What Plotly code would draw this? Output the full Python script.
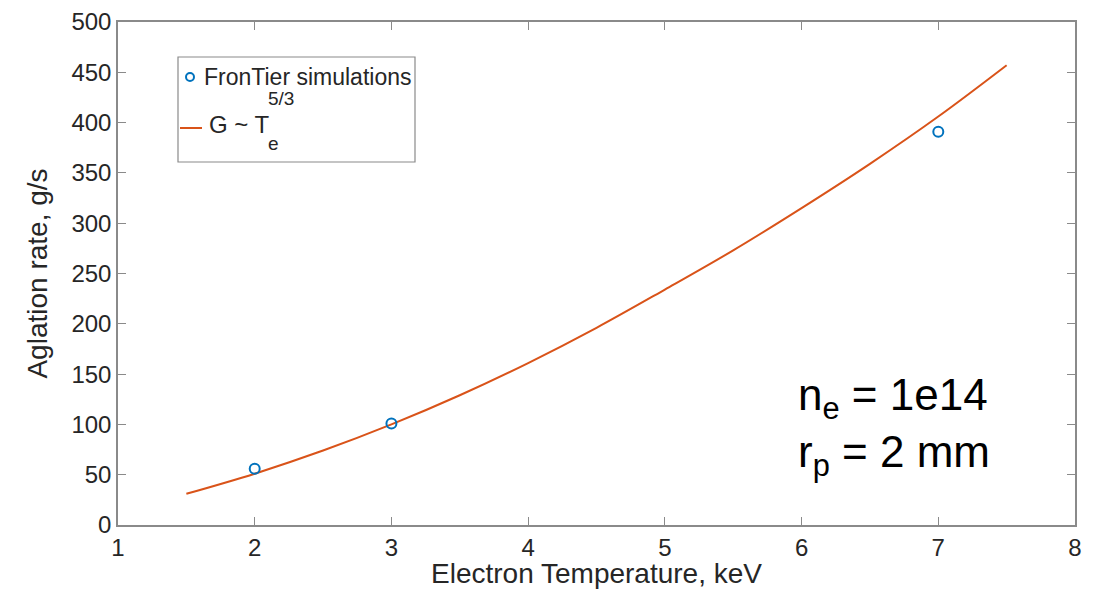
import plotly.graph_objects as go

# Simulation points
sim_T = [2, 3, 7]
sim_G = [56, 101, 391]

# Fitted curve G ~ Te^(5/3)
fit_T = [1.5, 2.0, 2.5, 3.0, 3.5, 4.0, 4.5, 5.0, 5.5, 6.0, 6.5, 7.0, 7.5]
fit_G = [31, 51, 74, 100, 129, 161, 196, 234, 273, 315, 359, 406, 457]

x_ticks = [1, 2, 3, 4, 5, 6, 7, 8]
y_ticks = [0, 50, 100, 150, 200, 250, 300, 350, 400, 450, 500]

FONT = "Liberation Sans, Arial, sans-serif"
TXT = "#262626"
AX = "#8a8a8a"
BLUE = "#0072BD"
ORANGE = "#D95319"

W, H = 1093, 589
L, R, T, B = 118, 18, 22, 64
PW, PH = W - L - R, H - T - B


def px(x):
    return (x - L) / PW


def py(y):
    return (H - B - y) / PH


fig = go.Figure()
fig.add_trace(go.Scatter(
    x=fit_T, y=fit_G, mode="lines", name="G ~ T_e^5/3",
    line=dict(color=ORANGE, width=2, shape="spline", smoothing=1.0),
    showlegend=False,
))
fig.add_trace(go.Scatter(
    x=sim_T, y=sim_G, mode="markers", name="FronTier simulations",
    marker=dict(symbol="circle-open", size=10, color=BLUE, line=dict(width=2, color=BLUE)),
    showlegend=False,
))

axis_common = dict(
    showgrid=False, zeroline=False, showline=True, linecolor=AX, linewidth=1.5,
    mirror="ticks", ticks="inside", ticklen=8, tickcolor=AX, tickwidth=1,
    tickfont=dict(family=FONT, size=24, color=TXT),
)

fig.update_layout(
    width=W, height=H,
    margin=dict(l=L, r=R, t=T, b=B, autoexpand=False),
    paper_bgcolor="white", plot_bgcolor="white",
    xaxis=dict(range=[1, 8], tickvals=x_ticks, ticktext=[str(v) for v in x_ticks],
               title=dict(text="Electron Temperature, keV", font=dict(family=FONT, size=28, color=TXT), standoff=4),
               **axis_common),
    yaxis=dict(range=[0, 500], tickvals=y_ticks, ticktext=[str(v) for v in y_ticks],
               title=dict(text="Aglation rate, g/s", font=dict(family=FONT, size=28, color=TXT), standoff=16),
               **axis_common),
    showlegend=False,
)

# Manual legend box
shapes = [
    dict(type="rect", xref="paper", yref="paper", x0=px(178), x1=px(415), y0=py(162), y1=py(57),
         line=dict(color=AX, width=1.2), fillcolor="white", layer="above"),
    dict(type="circle", xref="paper", yref="paper", xsizemode="pixel", ysizemode="pixel",
         xanchor=px(190), yanchor=py(77), x0=-4, x1=4, y0=-4, y1=4,
         line=dict(color=BLUE, width=2), layer="above"),
    dict(type="line", xref="paper", yref="paper", x0=px(180), x1=px(202), y0=py(128), y1=py(128),
         line=dict(color=ORANGE, width=2), layer="above"),
]
fig.update_layout(shapes=shapes)

annos = [
    dict(text="FronTier simulations", x=px(202), y=py(77), xanchor="left", yanchor="middle",
         font=dict(family=FONT, size=23, color=TXT)),
    dict(text="G ~ T", x=px(207), y=py(124), xanchor="left", yanchor="middle",
         font=dict(family=FONT, size=24, color=TXT)),
    dict(text="5/3", x=px(266), y=py(98), xanchor="left", yanchor="middle",
         font=dict(family=FONT, size=19, color=TXT)),
    dict(text="e", x=px(266), y=py(143), xanchor="left", yanchor="middle",
         font=dict(family=FONT, size=19, color=TXT)),
    dict(text="n<sub>e</sub> = 1e14<br>r<sub>p</sub> = 2 mm", x=px(796), y=py(426),
         xanchor="left", yanchor="middle", align="left",
         font=dict(family=FONT, size=44, color="black")),
]
for a in annos:
    a.update(xref="paper", yref="paper", showarrow=False)
fig.update_layout(annotations=annos)

fig.write_html("out.html")
